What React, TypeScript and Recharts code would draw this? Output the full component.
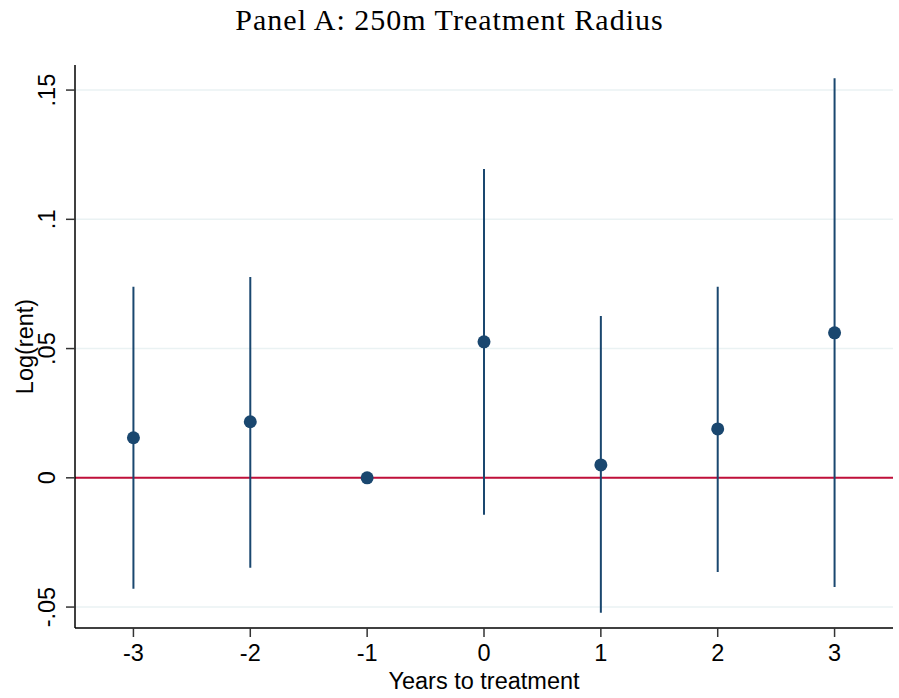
import React from "react";
import {
  ComposedChart,
  Scatter,
  ErrorBar,
  XAxis,
  YAxis,
  ReferenceLine,
  Label,
} from "recharts";

const years = [-3, -2, -1, 0, 1, 2, 3];
const coefs = [0.0155, 0.0217, 0, 0.0526, 0.005, 0.0189, 0.0561];
const ciLow = [-0.0429, -0.0348, 0, -0.0143, -0.0522, -0.0364, -0.0422];
const ciHigh = [0.0739, 0.0777, 0, 0.1195, 0.0626, 0.0739, 0.1546];

const yTicks = [-0.05, 0, 0.05, 0.1, 0.15];
const yTickLabels = ["-.05", "0", ".05", ".1", ".15"];

const data = years.map((year, i) => ({
  year,
  coef: coefs[i],
  err: [coefs[i] - ciLow[i], ciHigh[i] - coefs[i]],
}));

const NAVY = "#1a476f";
const FONT = "'Liberation Sans', Arial, sans-serif";
const FS = 23.5;

function YTick(props: any) {
  const { x, y, payload } = props;
  const idx = yTicks.indexOf(payload.value);
  const tx = x - 9;
  return (
    <text
      x={tx}
      y={y}
      transform={`rotate(-90 ${tx} ${y})`}
      textAnchor="middle"
      fontSize={FS}
      fontFamily={FONT}
      fill="#000"
    >
      {idx >= 0 ? yTickLabels[idx] : payload.value}
    </text>
  );
}

function YTitle(props: any) {
  const { viewBox } = props;
  const cx = viewBox.x + 23;
  const cy = viewBox.y + viewBox.height / 2;
  return (
    <text
      x={cx}
      y={cy}
      transform={`rotate(-90 ${cx} ${cy})`}
      textAnchor="middle"
      fontSize={FS}
      fontFamily={FONT}
      fill="#000"
    >
      Log(rent)
    </text>
  );
}

function XTitle(props: any) {
  const { viewBox } = props;
  const cx = viewBox.x + viewBox.width / 2;
  const cy = viewBox.y + viewBox.height + 11;
  return (
    <text x={cx} y={cy} textAnchor="middle" fontSize={FS} fontFamily={FONT} fill="#000">
      Years to treatment
    </text>
  );
}

function Dot(props: any) {
  const { cx, cy } = props;
  return <circle cx={cx} cy={cy} r={6.5} fill={NAVY} />;
}

export default function App() {
  return (
    <div style={{ position: "absolute", left: 0, top: 0, width: 899, height: 698, background: "#fff" }}>
      <div
        style={{
          position: "absolute",
          top: 3,
          width: 899,
          textAlign: "center",
          fontFamily: "'Liberation Serif', 'Times New Roman', serif",
          fontSize: 30,
          letterSpacing: 1,
          color: "#000",
        }}
      >
        Panel A: 250m Treatment Radius
      </div>
      <ComposedChart
        width={899}
        height={698}
        data={data}
        margin={{ top: 65, right: 6, left: 10, bottom: 20 }}
      >
        <XAxis
          type="number"
          dataKey="year"
          domain={[-3.5, 3.5]}
          ticks={years}
          allowDataOverflow
          height={50}
          tickSize={9}
          tickMargin={7}
          axisLine={{ stroke: "#000", strokeWidth: 1.5 }}
          tickLine={{ stroke: "#333", strokeWidth: 1.5 }}
          tick={{ fill: "#000", fontSize: FS, fontFamily: FONT }}
        >
          <Label content={<XTitle />} />
        </XAxis>
        <YAxis
          type="number"
          dataKey="coef"
          domain={[-0.0581, 0.1597]}
          ticks={yTicks}
          allowDataOverflow
          width={65}
          tickSize={9}
          axisLine={{ stroke: "#000", strokeWidth: 1.5 }}
          tickLine={{ stroke: "#333", strokeWidth: 1.5 }}
          tick={<YTick />}
        >
          <Label content={<YTitle />} />
        </YAxis>
        {yTicks.map((t) => (
          <ReferenceLine key={t} y={t} stroke="#eaf2f3" strokeWidth={1.5} />
        ))}
        <ReferenceLine y={0} stroke="#c0103a" strokeWidth={2} />
        <Scatter dataKey="coef" fill={NAVY} shape={<Dot />} isAnimationActive={false}>
          <ErrorBar dataKey="err" direction="y" width={0} stroke={NAVY} strokeWidth={2} isAnimationActive={false} />
        </Scatter>
      </ComposedChart>
    </div>
  );
}
